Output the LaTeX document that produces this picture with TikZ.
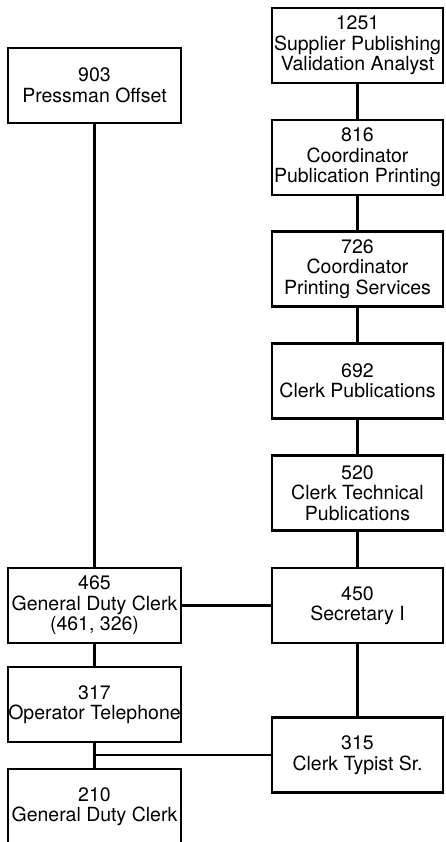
\documentclass[tikz,border=0pt]{standalone}
\usepackage{fontspec}
\setmainfont{TeX Gyre Heros}
\begin{document}
\begin{tikzpicture}[x=1pt,y=-1pt,
  post/.style={draw, line width=2.2pt, minimum height=75pt, inner sep=0pt,
    align=center, font=\fontsize{19.5}{20.5}\selectfont},
  lpost/.style={post, minimum width=173pt},
  rpost/.style={post, minimum width=171pt},
  link/.style={line width=2.2pt}]
\useasboundingbox (0,0) rectangle (445,842);
\clip (0,0) rectangle (445,842);

% left column
\node[lpost] (p903) at (94.5,85.5)  {903\\Pressman Offset};
\node[lpost] (p465) at (94.5,605.5) {465\\General Duty Clerk\\(461, 326)};
\node[lpost] (p317) at (94.5,704.5) {317\\Operator Telephone};
\node[lpost] (p210) at (94.5,806.5) {210\\General Duty Clerk};

% right column
\node[rpost] (p1251) at (357.5,45.5)  {1251\\Supplier Publishing\\Validation Analyst};
\node[rpost] (p816)  at (357.5,157.5) {816\\Coordinator\\Publication Printing};
\node[rpost] (p726)  at (357.5,269)   {726\\Coordinator\\Printing Services};
\node[rpost] (p692)  at (357.5,381)   {692\\Clerk Publications};
\node[rpost] (p520)  at (357.5,493)   {520\\Clerk Technical\\Publications};
\node[rpost] (p450)  at (357.5,605.5) {450\\Secretary I};
\node[rpost] (p315)  at (357.5,755)   {315\\Clerk Typist Sr.};

% connectors
\draw[link] (p903) -- (p465);
\draw[link] (p465) -- (p317);
\draw[link] (p317) -- (p210);
\draw[link] (p1251) -- (p816);
\draw[link] (p816) -- (p726);
\draw[link] (p726) -- (p692);
\draw[link] (p692) -- (p520);
\draw[link] (p520) -- (p450);
\draw[link] (p450) -- (p315);
\draw[link] (p465.east) -- (p450.west);
\coordinate (tap) at (p317.south |- p315.west);
\draw[link] (tap) -- (p315.west);
\end{tikzpicture}
\end{document}
